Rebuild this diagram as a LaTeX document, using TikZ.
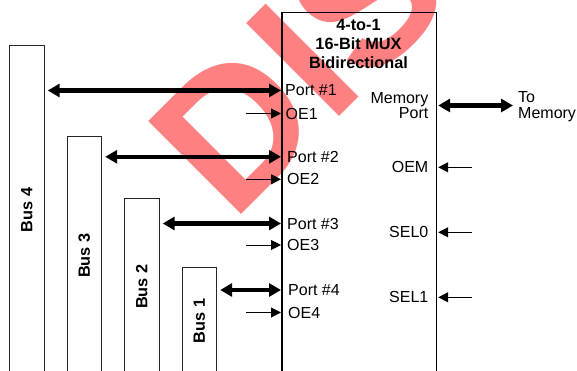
\documentclass[tikz,border=0pt]{standalone}
\usepackage{fontspec}
\setmainfont{Liberation Sans}
\usetikzlibrary{arrows.meta,calc}
\begin{document}
\begin{tikzpicture}[x=1pt,y=-1pt,
  lbl/.style={inner sep=0pt, font=\fontsize{16}{15.5}\selectfont},
  ttl/.style={inner sep=0pt, align=center, font=\fontsize{16.3}{19}\selectfont\bfseries},
  busbox/.style={draw=black!85, line width=1.2pt, minimum width=34.5pt, inner sep=0pt, anchor=north west},
  buslbl/.style={rotate=90, inner sep=0pt, font=\fontsize{16.3}{16}\selectfont\bfseries},
  bidir/.style={line width=4.2pt, {Triangle[length=12pt,width=13pt]}-{Triangle[length=12pt,width=13pt]}},
  oneway/.style={line width=1pt, -{Triangle[length=10pt,width=10pt]}},
  ]
\useasboundingbox (0,0) rectangle (577,371);
\begin{scope}
\clip (0,0) rectangle (577,371);
\node[rotate=45, anchor=base west, inner sep=0pt, text=red!50,
      font=\fontsize{191}{191}\selectfont\bfseries] (wm) at (232.7,223.3) {DIS};
\end{scope}
% buses
\node[busbox, minimum height=329pt] (bus4) at (9,45) {};
\node[busbox, minimum height=238pt] (bus3) at (66.5,136) {};
\node[busbox, minimum height=176pt] (bus2) at (124,198) {};
\node[busbox, minimum height=107pt] (bus1) at (181.5,267) {};
\node[buslbl] (b4l) at (bus4.center) {Bus 4};
\node[buslbl] (b3l) at (bus3.center) {Bus 3};
\node[buslbl] (b2l) at (bus2.center) {Bus 2};
\node[buslbl] (b1l) at (bus1.center) {Bus 1};
% mux box
\node[draw, line width=1.5pt, minimum width=154.7pt, minimum height=370pt, inner sep=0pt, anchor=north west] (mux) at (281,12) {};
\node[ttl] (title) at (358.5,44) {4-to-1\\16-Bit MUX\\Bidirectional};
% left labels
\node[lbl, anchor=west] (p1) at (285,90.5) {Port \#1};
\node[lbl, anchor=west] (oe1) at (285.5,113.5) {OE1};
\node[lbl, anchor=west] (p2) at (287,156.8) {Port \#2};
\node[lbl, anchor=west] (oe2) at (287,179.3) {OE2};
\node[lbl, anchor=west] (p3) at (287,223.5) {Port \#3};
\node[lbl, anchor=west] (oe3) at (287,245) {OE3};
\node[lbl, anchor=west] (p4) at (288,290) {Port \#4};
\node[lbl, anchor=west] (oe4) at (288,312.5) {OE4};
% right labels
\node[lbl, anchor=east, align=right] (memp) at (428.5,105.5) {Memory\\Port};
\node[lbl, anchor=east] (oem) at (428.5,167.3) {OEM};
\node[lbl, anchor=east] (sel0) at (428.5,232.3) {SEL0};
\node[lbl, anchor=east] (sel1) at (428.5,297.3) {SEL1};
\node[lbl, anchor=west, align=left] (tomem) at (518,106.5) {To\\Memory};
% port arrows
\draw[bidir, shorten <=3pt] (bus4.east |- p1) -- (mux.west |- p1);
\draw[bidir, shorten <=3pt] (bus3.east |- p2) -- (mux.west |- p2);
\draw[bidir, shorten <=3pt] (bus2.east |- p3) -- (mux.west |- p3);
\draw[bidir, shorten <=3pt] (bus1.east |- p4) -- (mux.west |- p4);
% OE arrows
\draw[oneway] ($(mux.west |- oe1)+(-35,0)$) -- (mux.west |- oe1);
\draw[oneway] ($(mux.west |- oe2)+(-35,0)$) -- (mux.west |- oe2);
\draw[oneway] ($(mux.west |- oe3)+(-35,0)$) -- (mux.west |- oe3);
\draw[oneway] ($(mux.west |- oe4)+(-35,0)$) -- (mux.west |- oe4);
% right arrows
\draw[bidir, shorten <=1pt, shorten >=5pt] (mux.east |- memp) -- (tomem.west |- memp);
\draw[oneway, shorten >=1pt] ($(mux.east |- oem)+(35,0)$) -- (mux.east |- oem);
\draw[oneway, shorten >=1pt] ($(mux.east |- sel0)+(35,0)$) -- (mux.east |- sel0);
\draw[oneway, shorten >=1pt] ($(mux.east |- sel1)+(35,0)$) -- (mux.east |- sel1);
\end{tikzpicture}
\end{document}
